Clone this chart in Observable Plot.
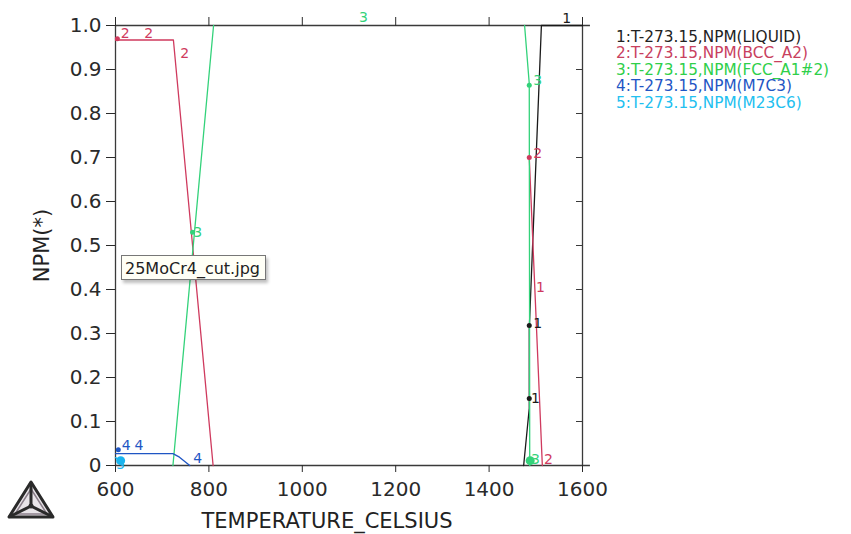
<!DOCTYPE html>
<html><head><meta charset="utf-8">
<script src="https://cdn.jsdelivr.net/npm/d3@7"></script>
<script src="https://cdn.jsdelivr.net/npm/@observablehq/plot@0.6"></script>
<style>
body{margin:0;background:#fff;}
#wrap{position:relative;width:851px;height:534px;font-family:"DejaVu Sans",sans-serif;overflow:hidden;}
.abs{position:absolute;white-space:nowrap;}
.leg{font-size:15.3px;line-height:14px;height:14px;}
#xt{font-size:21px;line-height:21px;color:#222;}
#yt{font-size:21px;line-height:21px;color:#222;transform:rotate(-90deg);transform-origin:center center;}
#tip{left:121px;top:255px;width:145px;height:25px;border:1px solid #777;background:#fffff6;box-shadow:2px 3px 3px rgba(0,0,0,0.25);font-size:16px;line-height:25px;color:#222;padding-left:3px;box-sizing:border-box;}
</style></head><body><div id="wrap"></div><script>
// ---- data ----
const xTicks = [600, 800, 1000, 1200, 1400, 1600];
const yTicks = [0, 0.1, 0.2, 0.3, 0.4, 0.5, 0.6, 0.7, 0.8, 0.9, 1.0];
const phases = ["LIQUID", "BCC_A2", "FCC_A1#2", "M7C3", "M23C6"];
const colors = ["#1a1a1a", "#cf3a5e", "#33d27a", "#1f56c4", "#1ab4ee"];
const legendColors = ["#222222", "#c8405e", "#2fcf4a", "#1f56c4", "#22c0f0"];

// curves (temperature in °C, phase fraction); null = gap
const liquidT = [1474, 1486, 1486, 1512, 1600];
const liquidV = [0, 0.13, 0.31, 1.0, 1.0];
const bccT = [600, 724, 809, null, 1486, 1514];
const bccV = [0.967, 0.967, 0, null, 0.70, 0];
const fccT = [723, 810, null, 1476, 1486, 1487];
const fccV = [0, 1.0, null, 1.0, 0.868, 0];
const m7c3T = [600, 723, 737, 759];
const m7c3V = [0.027, 0.027, 0.019, 0];
const m23c6T = [600, 607, 614];
const m23c6V = [0.018, 0.012, 0];

// curve labels
const labelText  = ["2", "2", "2", "3", "4", "4", "4", "5", "1", "3", "3", "2", "1", "1", "1", "3", "2"];
const labelPhase = [1, 1, 1, 2, 3, 3, 3, 4, 0, 2, 2, 1, 1, 0, 0, 2, 1];
const labelT = [621, 671, 748, 776, 623, 650, 776, 611, 1566, 1131, 1504, 1504, 1510, 1504, 1499, 1499, 1527];
const labelV = [0.982, 0.982, 0.936, 0.530, 0.046, 0.046, 0.016, 0.003, 1.016, 1.018, 0.875, 0.709, 0.405, 0.323, 0.152, 0.014, 0.014];

// label markers
const dotPhase = [1, 2, 3, 4, 2, 1, 0, 0, 2];
const dotT = [604, 765, 606, 611, 1486, 1486, 1486, 1486, 1488];
const dotV = [0.970, 0.530, 0.036, 0.011, 0.864, 0.700, 0.318, 0.152, 0.011];
const dotR = [2.5, 2.5, 2.5, 4.5, 2.5, 2.5, 2.5, 2.5, 4.5];

// ---- build tables ----
const curveT = [liquidT, bccT, fccT, m7c3T, m23c6T];
const curveV = [liquidV, bccV, fccV, m7c3V, m23c6V];
const rows = [];
curveT.forEach((ts, i) => ts.forEach((t, j) => rows.push({phase: phases[i], T: t, V: curveV[i][j]})));
const labels = labelText.map((s, i) => ({s, phase: phases[labelPhase[i]], T: labelT[i], V: labelV[i]}));
const dots = dotT.map((t, i) => ({phase: phases[dotPhase[i]], T: t, V: dotV[i], r: dotR[i]}));

const chart = Plot.plot({
  width: 851, height: 534,
  marginLeft: 115, marginRight: 269, marginTop: 25, marginBottom: 69,
  x: {domain: [600, 1600]},
  y: {domain: [0, 1]},
  color: {domain: phases, range: colors},
  r: {type: "identity"},
  style: {fontFamily: "DejaVu Sans, sans-serif", fontSize: "20px", color: "#2a2a2a", background: "transparent", overflow: "visible"},
  marks: [
    Plot.ruleX([600, 1600], {stroke: "#3a3a3a", strokeWidth: 1.3}),
    Plot.ruleY([0, 1], {x1: 600, x2: 1617, stroke: "#3a3a3a", strokeWidth: 1.3}),
    Plot.axisY({ticks: yTicks, tickFormat: d => d === 0 ? "0" : d.toFixed(1), tickSize: 9, tickPadding: 5, label: null, fontSize: 20}),
    Plot.axisX({ticks: xTicks, tickFormat: d => String(d), tickSize: 7, tickPadding: 9, label: null, fontSize: 20}),
    Plot.axisX({anchor: "top", ticks: xTicks, tickSize: 9, tickFormat: () => "", label: null}),
    Plot.tickY(yTicks, {y: d => d, insetLeft: 461, stroke: "#3a3a3a"}),
    Plot.line(rows, {x: "T", y: "V", z: "phase", stroke: "phase", strokeWidth: 1.3}),
    Plot.dot(dots, {x: "T", y: "V", r: "r", fill: "phase", stroke: "none"}),
    Plot.text(labels, {x: "T", y: "V", text: "s", fill: "phase", fontSize: 14})
  ]
});
const wrap = document.getElementById("wrap");
wrap.appendChild(chart);

// legend
const legendText = phases.map((p, i) => `${i + 1}:T-273.15,NPM(${p})`);
legendText.forEach((t, i) => {
  const d = document.createElement("div");
  d.className = "abs leg";
  d.style.left = "616px";
  d.style.top = (29.5 + i * 16.6) + "px";
  d.style.color = legendColors[i];
  d.textContent = t;
  wrap.appendChild(d);
});

// axis titles
const xt = document.createElement("div");
xt.id = "xt"; xt.className = "abs"; xt.textContent = "TEMPERATURE_CELSIUS";
wrap.appendChild(xt);
xt.style.left = (327 - xt.offsetWidth / 2) + "px"; xt.style.top = "511px";
const yt = document.createElement("div");
yt.id = "yt"; yt.className = "abs"; yt.textContent = "NPM(*)";
wrap.appendChild(yt);
yt.style.left = (42 - yt.offsetWidth / 2) + "px"; yt.style.top = (245 - yt.offsetHeight / 2) + "px";

// tooltip box
const tip = document.createElement("div");
tip.id = "tip"; tip.className = "abs"; tip.textContent = "25MoCr4_cut.jpg";
wrap.appendChild(tip);

// logo
const ns = "http://www.w3.org/2000/svg";
const logo = document.createElementNS(ns, "svg");
logo.setAttribute("width", 70); logo.setAttribute("height", 64);
logo.style.position = "absolute"; logo.style.left = "0px"; logo.style.top = "470px";
logo.innerHTML = `
<polygon points="31,12 9,47 53,47" fill="#e8e4e8" stroke="#2a2a2a" stroke-width="3" stroke-linejoin="round"/>
<polygon points="31,19 15,44 47,44" fill="none" stroke="#8a7f8a" stroke-width="1.5"/>
<line x1="31" y1="12" x2="31" y2="36" stroke="#2a2a2a" stroke-width="3"/>
<line x1="31" y1="36" x2="9" y2="47" stroke="#2a2a2a" stroke-width="3"/>
<line x1="31" y1="36" x2="53" y2="47" stroke="#2a2a2a" stroke-width="3"/>
<circle cx="31" cy="36" r="2.5" fill="#2a2a2a"/>`;
wrap.appendChild(logo);
</script></body></html>
